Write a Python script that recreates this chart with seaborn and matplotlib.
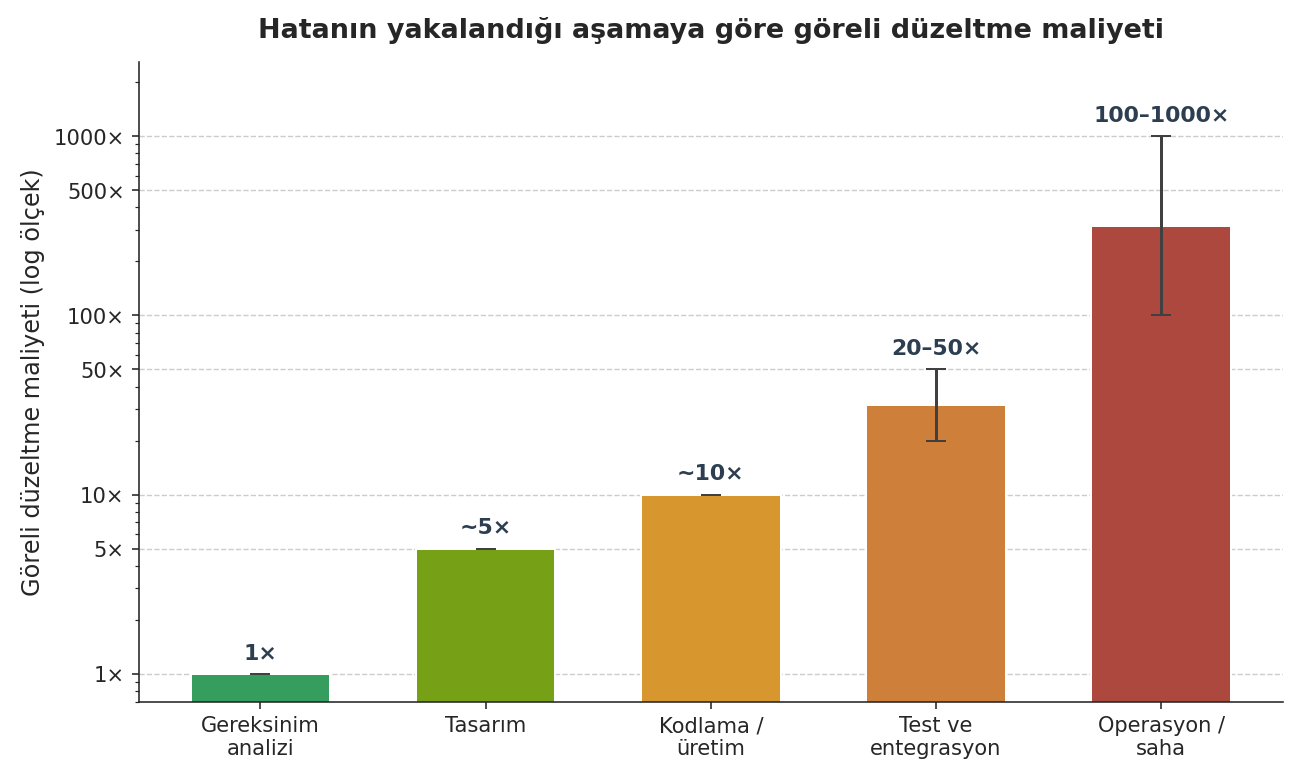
import matplotlib
matplotlib.use("Agg")
import matplotlib.pyplot as plt
import seaborn as sns
import numpy as np
import pandas as pd
from matplotlib.ticker import FixedLocator, FixedFormatter, LogLocator, NullFormatter

categories = ["Gereksinim\nanalizi", "Tasarım", "Kodlama /\nüretim", "Test ve\nentegrasyon", "Operasyon /\nsaha"]
values = [1, 5, 10, 31.6, 316]
low = [1, 5, 10, 20, 100]
high = [1, 5, 10, 50, 1000]
labels = ["1×", "~5×", "~10×", "20–50×", "100–1000×"]
colors = ["#23b05b", "#7fb800", "#f39c12", "#e67e22", "#c0392b"]
ticks = [1, 5, 10, 50, 100, 500, 1000]
tick_labels = ["1×", "5×", "10×", "50×", "100×", "500×", "1000×"]

sns.set_style("ticks")
plt.rcParams['font.family'] = ['DejaVu Sans']
fig, ax = plt.subplots(figsize=(9, 5.4), dpi=144)
df = pd.DataFrame({"cat": categories, "val": values})
sns.barplot(data=df, x="cat", y="val", hue="cat", palette=colors, legend=False, width=0.62, ax=ax, zorder=2)
ax.set_yscale("log")
x = np.arange(len(categories))
v = np.array(values)
yerr = [v - np.array(low), np.array(high) - v]
ax.errorbar(x, v, yerr=yerr, fmt="none", ecolor="#404040", capsize=5, lw=1.5, zorder=3)
for xi, h, t in zip(x, high, labels):
    ax.text(xi, h * 1.15, t, ha="center", va="bottom", fontsize=11, fontweight="bold", color="#2c3e50")
ax.set_ylim(0.7, 2600)
ax.yaxis.set_major_locator(FixedLocator(ticks))
ax.yaxis.set_major_formatter(FixedFormatter(tick_labels))
ax.yaxis.set_minor_locator(LogLocator(subs=np.arange(2, 10)))
ax.yaxis.set_minor_formatter(NullFormatter())
ax.grid(axis="y", which="major", ls="--", color="#cccccc", lw=0.7, zorder=0)
ax.set_axisbelow(True)
ax.set_xlabel("")
ax.set_ylabel("Göreli düzeltme maliyeti (log ölçek)", fontsize=12)
ax.set_title("Hatanın yakalandığı aşamaya göre göreli düzeltme maliyeti", fontsize=13.5, fontweight="bold", pad=12)
ax.tick_params(axis="both", labelsize=10.5)
sns.despine(ax=ax)
fig.subplots_adjust(left=0.107, right=0.99, top=0.92, bottom=0.097)
fig.savefig("out.png", dpi=144)
